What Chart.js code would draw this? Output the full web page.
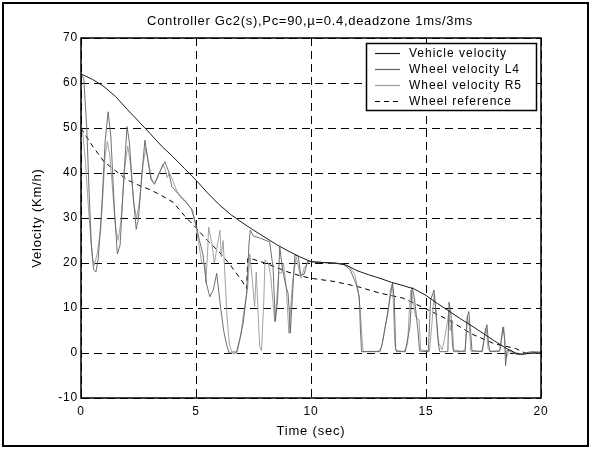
<!DOCTYPE html>
<html>
<head>
<meta charset="utf-8">
<script src="https://cdn.jsdelivr.net/npm/chart.js@4.4.1/dist/chart.umd.min.js"></script>
<style>
  html, body { margin: 0; padding: 0; background: #fff; }
  #wrap { width: 592px; height: 449px; }
</style>
</head>
<body>
<div id="wrap"><canvas id="velocityChart" width="592" height="449"></canvas></div>
<script>
// Values
const xTickValues = [0, 5, 10, 15, 20];
const yTickValues = [-10, 0, 10, 20, 30, 40, 50, 60, 70];

const vehicleTime  = [0, 0.5, 1, 1.5, 2, 2.5, 3, 3.5, 4, 4.5, 5, 5.5, 6, 6.5, 7, 7.5, 8, 8.5, 9, 9.5, 10, 10.5, 11, 11.5, 12, 12.5, 13, 13.5, 14, 14.5, 15, 15.5, 16, 16.5, 17, 17.5, 18, 18.5, 18.9, 19.2, 19.6, 20];
const vehicleSpeed = [62, 60.8, 59.2, 57, 54.2, 51.5, 48.8, 46, 43.6, 41, 38.4, 35.6, 33, 30.8, 29, 27.3, 25.7, 24.1, 22.7, 21.4, 20.3, 20.1, 20, 19.6, 18.3, 17.4, 16.6, 15.7, 15, 14.2, 12.8, 11, 9.3, 7.6, 6, 4.3, 2.6, 1, 0, -0.3, 0, 0];

const wheelL4Time  = [0, 0.12, 0.25, 0.35, 0.45, 0.55, 0.65, 0.75, 0.9, 1.05, 1.18, 1.3, 1.45, 1.58, 1.7, 1.85, 2.0, 2.1, 2.25, 2.4, 2.5, 2.65, 2.78, 2.9, 3.05, 3.2, 3.35, 3.5, 3.65, 3.8, 3.95, 4.2, 4.5, 4.8, 5.0, 5.15, 5.3, 5.45, 5.6, 5.75, 5.9, 6.05, 6.2, 6.35, 6.45, 6.75, 6.9, 7.05, 7.2, 7.3, 7.36, 7.5, 7.8, 8.2, 8.35, 8.45, 8.55, 8.64, 8.75, 8.9, 9.0, 9.07, 9.1, 9.2, 9.3, 9.45, 9.55, 9.7, 9.85, 10.3, 11.0, 11.4, 11.7, 11.95, 12.1, 12.15, 12.2, 13.0, 13.1, 13.3, 13.4, 13.54, 13.62, 13.68, 13.72, 14.1, 14.3, 14.4, 14.5, 14.65, 14.72, 15.1, 15.2, 15.35, 15.45, 15.55, 15.6, 15.95, 16.0, 16.08, 16.15, 16.2, 16.7, 16.8, 16.86, 16.95, 17.0, 17.45, 17.58, 17.65, 17.72, 17.78, 18.2, 18.35, 18.42, 18.46, 18.52, 18.7, 18.9, 19.1, 19.3, 19.6, 20];
const wheelL4Speed = [62, 61, 50, 36, 24, 18.5, 18, 21, 32, 47, 53.6, 48, 32, 22, 24, 38, 50.3, 47, 36, 27.5, 30, 40, 47.3, 43, 38.5, 37.5, 39.5, 41, 42.5, 40.5, 37, 35.5, 34, 32, 28.5, 25, 22, 15.5, 12.5, 14, 17.7, 11, 5, 1.4, 0, 0, 3, 6.6, 13, 24, 27.3, 26, 25.5, 24.7, 19, 7, 12, 23.6, 19, 15, 13.3, 8, 4.4, 13.3, 21.8, 21.5, 17.3, 17.5, 20.4, 20.2, 20, 19.8, 18.5, 15.5, 12.5, 5, 0.3, 0.3, 2.1, 8, 11, 15.5, 12, 1, 0.3, 0.3, 5.8, 14.6, 12, 5, 0.4, 0.3, 11.8, 14, 8, 1.5, 0.3, 0.3, 11.3, 9, 2, 0.3, 0.3, 8, 9.2, 4, 0.5, 0.3, 5.1, 6.3, 2, 0.3, 0.4, 5.8, 3, -2.8, 0.5, 0.6, -0.2, -0.4, 0, 0.3, 0.2];

const wheelR5Time  = [0, 0.08, 0.2, 0.3, 0.4, 0.5, 0.58, 0.7, 0.85, 0.95, 1.05, 1.15, 1.25, 1.38, 1.5, 1.62, 1.75, 1.9, 2.03, 2.15, 2.3, 2.42, 2.55, 2.7, 2.82, 2.92, 3.05, 3.15, 3.3, 3.45, 3.55, 3.65, 3.75, 3.85, 4.0, 4.15, 4.35, 4.6, 4.85, 5.0, 5.1, 5.25, 5.39, 5.43, 5.5, 5.55, 5.7, 5.8, 6.04, 6.1, 6.18, 6.25, 6.35, 6.45, 6.55, 6.8, 6.95, 7.1, 7.25, 7.34, 7.45, 7.55, 7.62, 7.7, 7.77, 7.85, 7.95, 8.0, 8.15, 8.25, 8.42, 8.5, 8.6, 8.72, 8.8, 8.92, 9.04, 9.12, 9.2, 9.36, 9.5, 9.57, 9.7, 9.9, 10.5, 11.2, 11.67, 11.9, 12.05, 12.15, 12.22, 12.27, 12.9, 13.05, 13.2, 13.35, 13.45, 13.55, 13.6, 13.65, 13.69, 14.05, 14.2, 14.26, 14.34, 14.42, 14.55, 14.7, 14.77, 15.15, 15.25, 15.35, 15.42, 15.5, 15.56, 15.7, 15.8, 15.92, 16.0, 16.05, 16.14, 16.2, 16.55, 16.7, 16.79, 16.88, 16.95, 17.35, 17.44, 17.55, 17.62, 17.7, 17.8, 18.15, 18.23, 18.32, 18.38, 18.45, 18.5, 18.6, 18.8, 19.0, 19.4, 20];
const wheelR5Speed = [50, 49, 42, 34, 27, 21, 19.5, 22, 27, 35, 44, 47, 44, 36, 28, 25, 30, 41, 46, 42, 33, 30, 34, 42, 45.5, 43, 39, 37.8, 38.5, 40.5, 42, 41, 39, 40, 38.2, 36.2, 34.5, 33.3, 31.8, 28, 25, 20, 19.9, 15.5, 22, 28, 24, 20, 27.3, 21.4, 25, 18, 8, 2, 0.3, 0.3, 4, 10, 14.7, 22, 16, 10.3, 18, 9, 1.4, 0.5, 12, 20.7, 19.9, 17, 7, 11, 18, 17.7, 20, 15, 4.4, 10, 16, 21.4, 18, 16.6, 18.8, 20.3, 20.1, 19.9, 19.2, 17.5, 14, 9, 3, 0.3, 0.4, 1, 5, 9, 14, 15.5, 8, 2, 0.6, 0.3, 2, 8.1, 14, 12, 8, 7.3, 0.7, 0.4, 6, 13, 10, 4, 2.1, 0.7, 3, 6.6, 9.5, 5, 7.3, 0.7, 0.4, 0.7, 8.1, 6, 0.4, 0.4, 0.7, 4, 5.5, 1, 0.4, 0.5, 0.7, 4.5, 5.8, 1, -1, 0.5, 0, -0.3, 0, 0];

const refTime  = [0, 0.5, 1, 1.5, 2, 2.5, 3, 3.5, 4, 4.5, 5, 5.5, 6, 6.5, 7, 7.2, 7.25, 7.5, 8, 8.5, 9, 9.5, 10, 11, 12, 13, 14, 15, 16, 17, 18, 18.9, 19.3, 20];
const refSpeed = [50, 46, 42.5, 40.5, 38.5, 37.3, 36.3, 35, 33.5, 30.5, 27.8, 25, 22.5, 19.5, 16, 14.3, 21, 20.8, 20, 19, 18, 17.2, 16.6, 15.9, 14.8, 13.3, 12.2, 9.8, 7.3, 4.2, 2, 1, 0, 0];

const titleText = "Controller Gc2(s),Pc=90,\u00b5=0.4,deadzone 1ms/3ms";
const legendLabels = ["Vehicle velocity", "Wheel velocity L4", "Wheel velocity R5", "Wheel reference"];

const toPoints = (ts, vs) => ts.map((t, i) => ({ x: t, y: vs[i] }));
const FONT = "'Liberation Sans', Arial, sans-serif";

// frame, title and legend drawn on top of the plot
const figureDecor = {
  id: 'figureDecor',
  beforeDraw(chart) {
    const ctx = chart.ctx;
    ctx.save();
    ctx.fillStyle = '#fff';
    ctx.fillRect(0, 0, chart.width, chart.height);
    ctx.restore();
    // old matlab export has widely spaced letters
    ctx.letterSpacing = '0.8px';
  },
  afterDraw(chart) {
    const { ctx, chartArea: a } = chart;
    ctx.save();
    // outer figure frame
    ctx.strokeStyle = '#000';
    ctx.lineWidth = 2;
    ctx.strokeRect(3, 3, 585, 443);
    // axes box
    ctx.lineWidth = 1.5;
    ctx.strokeRect(Math.round(a.left), Math.round(a.top), Math.round(a.right - a.left), Math.round(a.bottom - a.top));

    // title
    ctx.fillStyle = '#000';
    ctx.font = '13px ' + FONT;
    ctx.letterSpacing = '0.7px';
    ctx.textAlign = 'center';
    ctx.textBaseline = 'middle';
    ctx.fillText(titleText, (a.left + a.right) / 2 - 1, 21);

    // legend
    ctx.font = '12px ' + FONT;
    ctx.letterSpacing = '1px';
    const lx = 366, ly = 43, lw = 170, lh = 67;
    ctx.fillStyle = '#fff';
    ctx.fillRect(lx, ly, lw, lh);
    ctx.strokeStyle = '#000';
    ctx.lineWidth = 1.5;
    ctx.strokeRect(lx + 0.5, ly + 0.5, lw, lh);
    chart.data.datasets.forEach((ds, i) => {
      const y = ly + 10 + i * 16;
      ctx.beginPath();
      ctx.strokeStyle = ds.borderColor;
      ctx.lineWidth = 1.2;
      ctx.setLineDash(ds.borderDash || []);
      ctx.moveTo(375, y + 0.5);
      ctx.lineTo(400, y + 0.5);
      ctx.stroke();
      ctx.setLineDash([]);
      ctx.fillStyle = '#000';
      ctx.textAlign = 'left';
      ctx.fillText(legendLabels[i], 409, y + 1);
    });
    ctx.restore();
  }
};

const ctx = document.getElementById('velocityChart').getContext('2d');

const velocityChart = new Chart(ctx, {
  type: 'line',
  data: {
    datasets: [
      {
        label: legendLabels[0],
        data: toPoints(vehicleTime, vehicleSpeed),
        borderColor: '#1a1a1a',
        borderWidth: 1,
        pointRadius: 0,
        tension: 0,
      },
      {
        label: legendLabels[1],
        data: toPoints(wheelL4Time, wheelL4Speed),
        borderColor: '#606060',
        borderWidth: 0.9,
        pointRadius: 0,
        tension: 0,
      },
      {
        label: legendLabels[2],
        data: toPoints(wheelR5Time, wheelR5Speed),
        borderColor: '#999999',
        borderWidth: 0.9,
        pointRadius: 0,
        tension: 0,
      },
      {
        label: legendLabels[3],
        data: toPoints(refTime, refSpeed),
        borderColor: '#000000',
        borderWidth: 1,
        borderDash: [5, 4],
        pointRadius: 0,
        tension: 0,
      },
    ],
  },
  options: {
    responsive: false,
    animation: false,
    devicePixelRatio: 1,
    layout: { padding: { left: 0, top: 38, right: 51, bottom: 0 } },
    plugins: {
      legend: { display: false },
      title: { display: false },
      tooltip: { enabled: false },
    },
    scales: {
      x: {
        type: 'linear',
        min: 0,
        max: 20,
        afterBuildTicks: (scale) => { scale.ticks = xTickValues.map(v => ({ value: v })); },
        afterFit: (scale) => { scale.height = 51; },
        ticks: { color: '#000', font: { family: FONT, size: 12 }, padding: 6, maxRotation: 0 },
        grid: { color: '#000', lineWidth: 1, drawTicks: false },
        border: { display: false, dash: [8, 5] },
        title: { display: true, text: 'Time (sec)', color: '#000', font: { family: FONT, size: 13 }, padding: { top: 0, bottom: 10 } },
      },
      y: {
        type: 'linear',
        min: -10,
        max: 70,
        afterBuildTicks: (scale) => { scale.ticks = yTickValues.map(v => ({ value: v })); },
        afterFit: (scale) => { scale.width = 81; },
        ticks: { color: '#000', font: { family: FONT, size: 12 }, padding: 3 },
        grid: { color: '#000', lineWidth: 1, drawTicks: false },
        border: { display: false, dash: [8, 5] },
        title: { display: true, text: 'Velocity (Km/h)', color: '#000', font: { family: FONT, size: 13 }, padding: { top: 30, bottom: 0 } },
      },
    },
  },
  plugins: [figureDecor],
});
</script>
</body>
</html>
